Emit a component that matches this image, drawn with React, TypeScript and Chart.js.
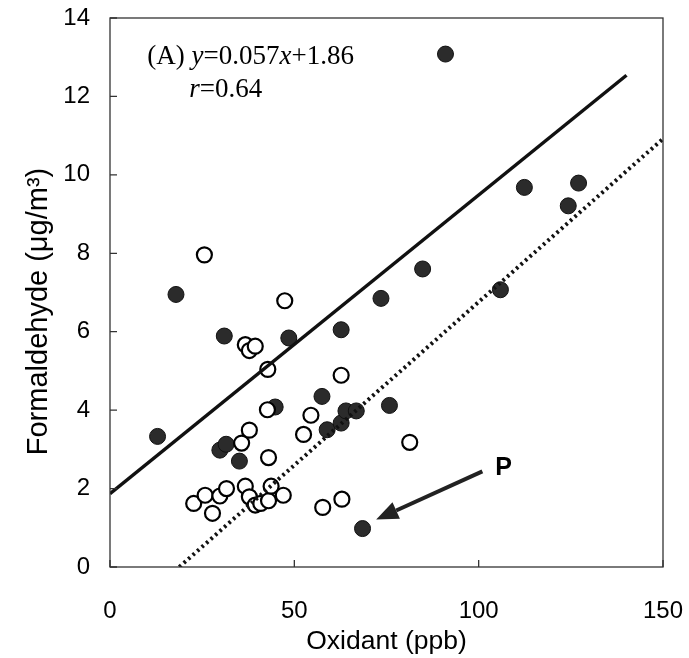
import React, { useEffect, useRef } from "react";
import { Chart, registerables } from "chart.js";

Chart.register(...registerables);

// Filled circles
const filledX = [12.9, 17.9, 29.8, 31.5, 31.0, 35.1, 44.8, 48.5, 57.5, 58.9, 62.7, 62.7, 64.0, 66.8, 68.5, 73.5, 75.8, 84.8, 91.0, 105.9, 112.4, 124.3, 127.1];
const filledY = [3.33, 6.95, 2.98, 3.13, 5.89, 2.70, 4.08, 5.84, 4.35, 3.50, 3.67, 6.05, 3.98, 3.98, 0.98, 6.85, 4.12, 7.60, 13.08, 7.07, 9.68, 9.21, 9.79];

// Open circles
const openX = [22.7, 25.6, 25.8, 27.8, 29.8, 31.6, 35.7, 36.7, 37.8, 39.4, 37.8, 36.7, 37.8, 39.4, 40.9, 42.7, 42.8, 43.0, 43.0, 43.7, 47.0, 47.4, 52.5, 54.5, 57.7, 62.7, 62.9, 81.3];
const openY = [1.62, 7.96, 1.83, 1.37, 1.81, 2.00, 3.16, 5.67, 5.52, 5.63, 3.49, 2.06, 1.79, 1.58, 1.62, 4.01, 5.04, 2.79, 1.69, 2.06, 1.83, 6.79, 3.38, 3.87, 1.52, 4.89, 1.73, 3.18];

// Regression lines (as drawn)
const solidLineX = [0, 140.1];
const solidLineY = [1.87, 12.54];
const dottedLineX = [18.8, 150];
const dottedLineY = [0, 10.92];

const xTicks = [0, 50, 100, 150];
const yTicks = [0, 2, 4, 6, 8, 10, 12, 14];

const xTitle = "Oxidant (ppb)";
const yTitle = "Formaldehyde (μg/m³)";
const eqLabel = { prefix: "(A) ", parts: [["y", true], ["=0.057", false], ["x", true], ["+1.86", false]] };
const rLabel = { parts: [["r", true], ["=0.64", false]] };
const eqPos = { x: 10.1, y: 12.82 };
const rPos = { x: 21.5, y: 11.98 };
const arrowFrom = { x: 101.0, y: 2.44 };
const arrowTo = { x: 72.2, y: 1.21 };
const pLabel = { text: "P", x: 106.1, y: 2.52 };

const toPts = (xs: number[], ys: number[]) => xs.map((x, i) => ({ x, y: ys[i] }));

const decorPlugin = {
  id: "decor",
  afterDatasetsDraw(chart: any) {
    const { ctx, chartArea, scales } = chart;
    const xs = scales.x;
    const ys = scales.y;
    ctx.save();
    // frame
    ctx.strokeStyle = "#333";
    ctx.lineWidth = 1.3;
    ctx.strokeRect(chartArea.left, chartArea.top, chartArea.right - chartArea.left, chartArea.bottom - chartArea.top);
    // inward ticks
    ctx.beginPath();
    yTicks.forEach((v) => {
      const py = ys.getPixelForValue(v);
      ctx.moveTo(chartArea.left, py);
      ctx.lineTo(chartArea.left + 7, py);
    });
    xTicks.forEach((v) => {
      const px = xs.getPixelForValue(v);
      ctx.moveTo(px, chartArea.bottom);
      ctx.lineTo(px, chartArea.bottom - 7);
    });
    ctx.stroke();

    // y axis title (rotated)
    ctx.save();
    ctx.translate(chartArea.left - 71, (chartArea.top + chartArea.bottom) / 2 + 19);
    ctx.rotate(-Math.PI / 2);
    ctx.fillStyle = "#000";
    ctx.font = "29px 'Liberation Sans', Arial, sans-serif";
    ctx.textAlign = "center";
    ctx.textBaseline = "middle";
    ctx.fillText(yTitle, 0, 0);
    ctx.restore();

    // equation text
    const drawParts = (parts: any[], startX: number, baseY: number) => {
      let cx = startX;
      parts.forEach(([t, it]: any) => {
        ctx.font = (it ? "italic " : "") + "27px 'Liberation Serif', 'Times New Roman', serif";
        ctx.fillText(t, cx, baseY);
        cx += ctx.measureText(t).width;
      });
    };
    ctx.fillStyle = "#000";
    ctx.textBaseline = "alphabetic";
    ctx.textAlign = "left";
    drawParts([[eqLabel.prefix, false], ...eqLabel.parts], xs.getPixelForValue(eqPos.x), ys.getPixelForValue(eqPos.y));
    drawParts(rLabel.parts, xs.getPixelForValue(rPos.x), ys.getPixelForValue(rPos.y));

    // arrow
    const x1 = xs.getPixelForValue(arrowFrom.x);
    const y1 = ys.getPixelForValue(arrowFrom.y);
    const x2 = xs.getPixelForValue(arrowTo.x);
    const y2 = ys.getPixelForValue(arrowTo.y);
    const ang = Math.atan2(y2 - y1, x2 - x1);
    const headLen = 22;
    const headW = 9;
    const bx = x2 - headLen * Math.cos(ang);
    const by = y2 - headLen * Math.sin(ang);
    ctx.strokeStyle = "#222";
    ctx.lineWidth = 4;
    ctx.beginPath();
    ctx.moveTo(x1, y1);
    ctx.lineTo(bx, by);
    ctx.stroke();
    ctx.fillStyle = "#222";
    ctx.beginPath();
    ctx.moveTo(x2, y2);
    ctx.lineTo(bx + headW * Math.sin(ang), by - headW * Math.cos(ang));
    ctx.lineTo(bx - headW * Math.sin(ang), by + headW * Math.cos(ang));
    ctx.closePath();
    ctx.fill();

    // P label
    ctx.fillStyle = "#000";
    ctx.font = "bold 25px 'Liberation Sans', Arial, sans-serif";
    ctx.textBaseline = "middle";
    ctx.fillText(pLabel.text, xs.getPixelForValue(pLabel.x) - 6, ys.getPixelForValue(pLabel.y));
    ctx.restore();
  },
};

export default function App() {
  const ref = useRef<HTMLCanvasElement>(null);
  useEffect(() => {
    const canvas = ref.current!;
    const font = { family: "'Liberation Sans', Arial, sans-serif", size: 24 };
    const chart = new Chart(canvas, {
      type: "scatter",
      data: {
        datasets: [
          {
            type: "line",
            data: toPts(solidLineX, solidLineY),
            borderColor: "#111",
            borderWidth: 3.5,
            pointRadius: 0,
            fill: false,
          } as any,
          {
            type: "line",
            data: toPts(dottedLineX, dottedLineY),
            borderColor: "#111",
            borderWidth: 4,
            borderDash: [2.5, 3.5],
            pointRadius: 0,
            fill: false,
          } as any,
          {
            data: toPts(openX, openY),
            pointRadius: 7.5,
            pointBackgroundColor: "#fff",
            pointBorderColor: "#000",
            pointBorderWidth: 2.2,
          },
          {
            data: toPts(filledX, filledY),
            pointRadius: 8,
            pointBackgroundColor: "#2b2b2b",
            pointBorderColor: "#111",
            pointBorderWidth: 1,
          },
        ],
      },
      options: {
        responsive: false,
        animation: false,
        layout: { padding: { top: 18, right: 26, left: 0, bottom: 0 } },
        plugins: { legend: { display: false }, tooltip: { enabled: false } },
        scales: {
          x: {
            type: "linear",
            min: 0,
            max: 150,
            afterFit: (s: any) => { s.height = 91; s.paddingLeft = 0; s.paddingRight = 0; },
            afterBuildTicks: (s: any) => { s.ticks = xTicks.map((v) => ({ value: v })); },
            grid: { display: false, drawTicks: false },
            border: { display: false },
            ticks: { font, color: "#000", padding: 30, maxRotation: 0 },
            title: { display: true, text: xTitle, font: { ...font, size: 26.5 }, color: "#000", padding: { top: 0, bottom: 0 } },
          },
          y: {
            type: "linear",
            min: 0,
            max: 14,
            afterFit: (s: any) => { s.width = 110; s.paddingTop = 0; s.paddingBottom = 0; },
            afterBuildTicks: (s: any) => { s.ticks = yTicks.map((v) => ({ value: v })); },
            grid: { display: false, drawTicks: false },
            border: { display: false },
            ticks: { font, color: "#000", padding: 20 },
            title: { display: false },
          },
        },
      },
      plugins: [decorPlugin],
    });
    return () => chart.destroy();
  }, []);
  return (
    <div style={{ position: "fixed", left: 0, top: 0, width: 689, height: 658, background: "#fff" }}>
      <canvas ref={ref} width={689} height={658} />
    </div>
  );
}
